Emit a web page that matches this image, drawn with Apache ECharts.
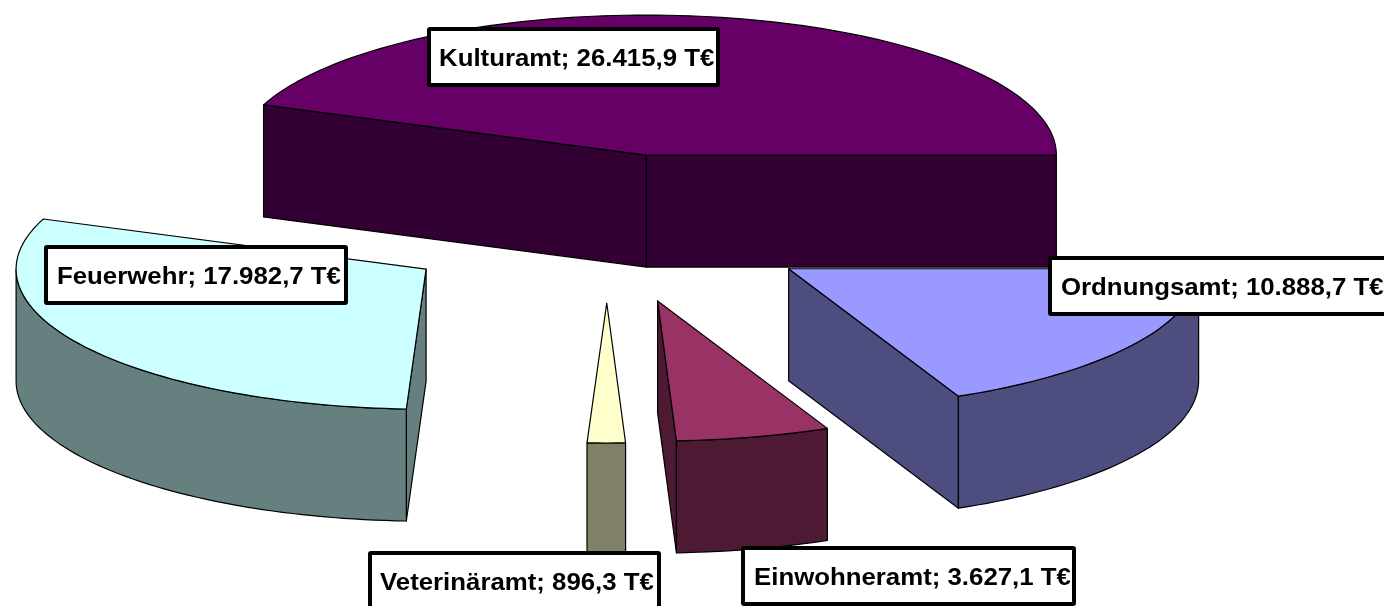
<!DOCTYPE html>
<html>
<head>
<meta charset="utf-8">
<style>html,body{margin:0;padding:0;background:#fff}#c{width:1384px;height:606px}</style>
<script src="https://cdn.jsdelivr.net/npm/echarts@6/dist/echarts.min.js"></script>
</head>
<body>
<div id="c"></div>
<script>
// Data, in drawing sequence round the pie (clockwise from the Kulturamt's start edge)
const categories = ['Kulturamt', 'Ordnungsamt', 'Einwohneramt', 'Veterinäramt', 'Feuerwehr'];
const values = [26415.9, 10888.7, 3627.1, 896.3, 17982.7];
const valueLabels = ['26.415,9', '10.888,7', '3.627,1', '896,3', '17.982,7'];
const unit = 'T€';
const topColors = ['#660066', '#9999FF', '#993366', '#FFFFCC', '#CCFFFF'];
const sideColors = ['#330033', '#4D4D80', '#4D1933', '#808066', '#668080'];

// Label boxes (outer edges: left, top, right, bottom) and text start x, by category index
const labelBoxes = [[427, 27, 720, 87], [1048, 256, 1392, 316], [741, 546, 1076, 606], [368, 551, 661, 611], [44, 245, 348, 305]];
const labelTextX = [439, 1061, 754, 380, 57];

// Pie projection
const pie = { cx: 607, cy: 228.4, rx: 410, ry: 140, depth: 112, explodeX: 216, explodeY: 74.6, startDeg: 159.0 };
const total = values.reduce((a, b) => a + b, 0);

function pt(ox, oy, deg, dz) {
  const a = deg * Math.PI / 180;
  return [ox + pie.rx * Math.cos(a), oy - pie.ry * Math.sin(a) + (dz || 0)];
}
function arc(ox, oy, from, to, dz) {
  const n = Math.max(2, Math.ceil(Math.abs(to - from) / 1.5));
  const out = [];
  for (let i = 0; i <= n; i++) out.push(pt(ox, oy, from + (to - from) * i / n, dz));
  return out;
}

function renderItem(params, api) {
  const i = params.dataIndex;
  let before = 0;
  for (let k = 0; k < i; k++) before += values[k];
  const sweep = api.value(1) / total * 360;
  const a0 = pie.startDeg - before / total * 360;   // clockwise
  const a1 = a0 - sweep;
  const mid = (a0 + a1) / 2 * Math.PI / 180;
  const ox = pie.cx + pie.explodeX * Math.cos(mid);
  const oy = pie.cy - pie.explodeY * Math.sin(mid);
  const h = pie.depth;
  const line = { stroke: '#000', lineWidth: 1.2, lineJoin: 'round' };
  const side = Object.assign({ fill: sideColors[i] }, line);
  const top = Object.assign({ fill: topColors[i] }, line);
  const kids = [];
  const wall = (d) => {
    const p = pt(ox, oy, d);
    kids.push({ type: 'polygon', shape: { points: [[ox, oy], p, [p[0], p[1] + h], [ox, oy + h]] }, style: side });
  };
  // radial walls that face the viewer
  if (Math.cos(a0 * Math.PI / 180) < 0) wall(a0);
  if (Math.cos(a1 * Math.PI / 180) > 0) wall(a1);
  // outer wall: only where it faces the viewer (below the ellipse's major axis)
  const hi = Math.min(a0, 0), lo = Math.max(a1, -180);
  if (hi > lo) {
    const up = arc(ox, oy, hi, lo, 0);
    const down = arc(ox, oy, lo, hi, h);
    kids.push({ type: 'polygon', shape: { points: up.concat(down) }, style: side });
  }
  // top face
  kids.push({ type: 'polygon', shape: { points: [[ox, oy]].concat(arc(ox, oy, a0, a1, 0)) }, style: top });
  // label
  const b = labelBoxes[i];
  kids.push({
    type: 'rect', z2: 100,
    shape: { x: b[0] + 2, y: b[1] + 2, width: b[2] - b[0] - 4, height: b[3] - b[1] - 4, r: 1 },
    style: { fill: '#fff', stroke: '#000', lineWidth: 4 }
  });
  kids.push({
    type: 'text', z2: 101,
    x: labelTextX[i], y: (b[1] + b[3]) / 2 + 2.5, scaleX: 1.075,
    style: {
      text: categories[i] + '; ' + valueLabels[i] + ' ' + unit,
      font: 'bold 24px "Liberation Sans", Arial, sans-serif',
      fill: '#000', align: 'left', verticalAlign: 'middle'
    }
  });
  return { type: 'group', children: kids };
}

const chart = echarts.init(document.getElementById('c'), null, { renderer: 'canvas' });
chart.setOption({
  animation: false,
  backgroundColor: '#fff',
  series: [{
    type: 'custom',
    coordinateSystem: 'none',
    renderItem: renderItem,
    clip: false,
    silent: true,
    data: categories.map((c, i) => [c, values[i]])
  }]
});
</script>
</body>
</html>
